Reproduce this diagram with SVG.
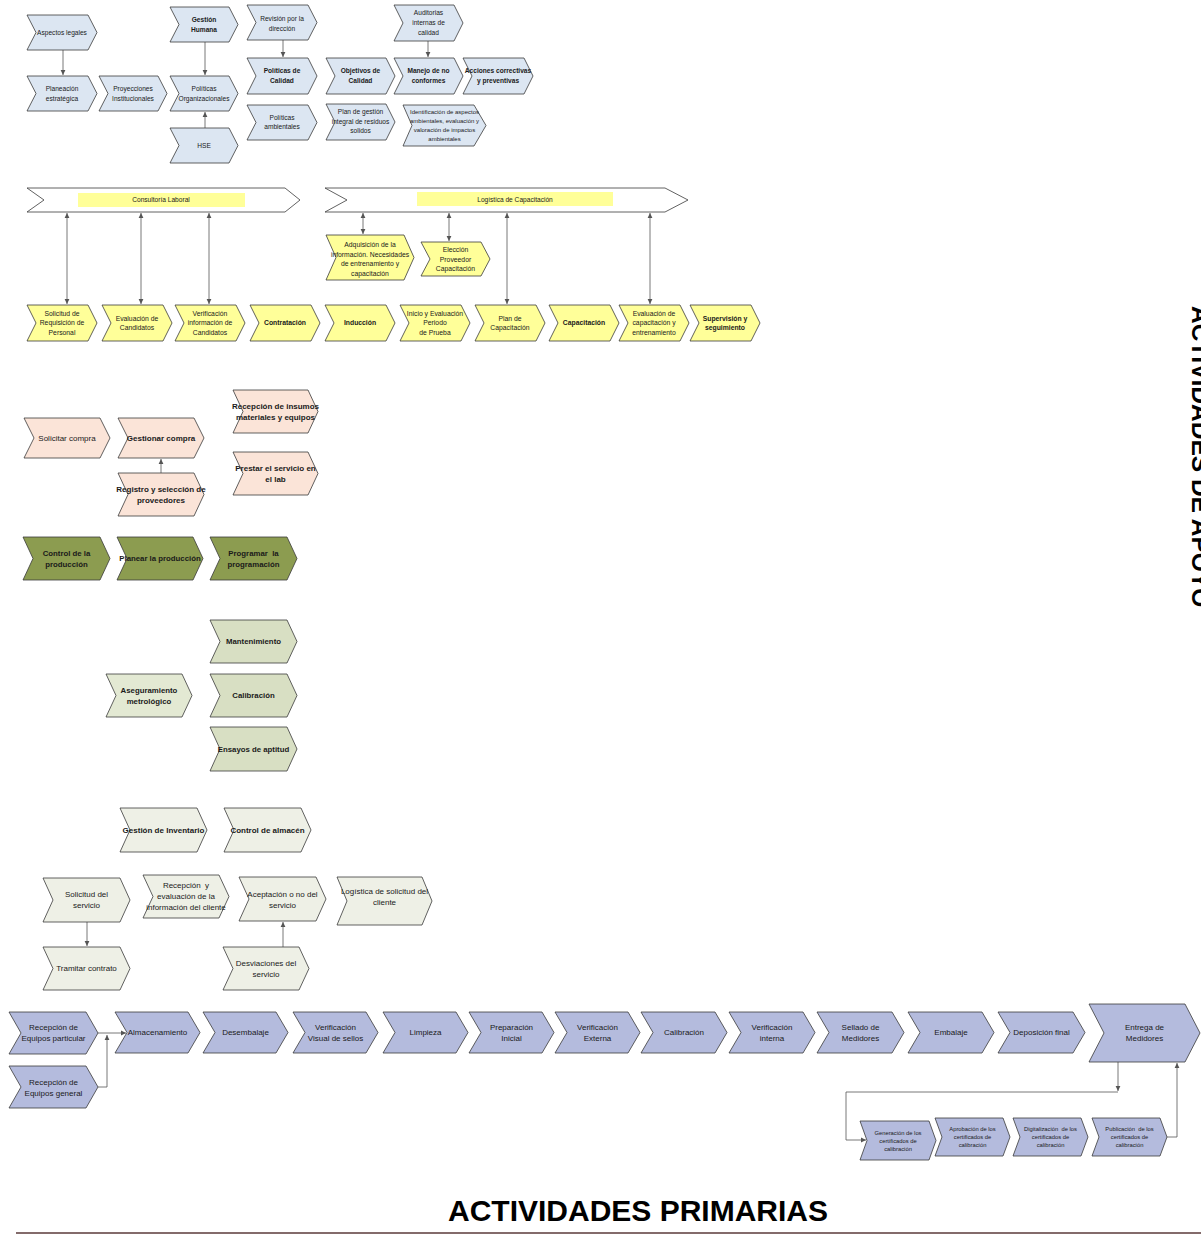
<svg xmlns="http://www.w3.org/2000/svg" width="1201" height="1236" viewBox="0 0 1201 1236">
<defs>
<style>
.n polygon{stroke:#3a3a3a;stroke-width:0.8}
.sky polygon{fill:#dce6f2}
.yel polygon{fill:#ffff99}
.band polygon{fill:#ffffff}
.peach polygon{fill:#fbe4d8}
.olive polygon{fill:#8c9c50}
.sage polygon{fill:#d8dfc3}
.sage2 polygon{fill:#e3e9d3}
.mist polygon{fill:#eef0e6}
.blue polygon{fill:#b4bbdd}
text{font-family:"Liberation Sans",Arial,sans-serif;fill:#1a1a1a;text-anchor:middle}
.t66{font-size:6.6px}
.t60{font-size:6px}
.t68{font-size:6.8px}
.t8{font-size:8px}
.t78{font-size:7.8px;font-weight:bold}
.t58{font-size:5.8px}
.b{font-weight:bold}
.lbl{fill:#ffff99}
.c line,.c polyline{stroke:#555;stroke-width:0.8;fill:none}
</style>
<marker id="ah" markerWidth="6" markerHeight="6" refX="5" refY="3" orient="auto-start-reverse" markerUnits="userSpaceOnUse"><path d="M0,0.6 L5,3 L0,5.4 Z" fill="#555"/></marker>
</defs>
<rect width="1201" height="1236" fill="#ffffff"/>

<!-- connectors -->
<g id="connectors" class="c">
<line x1="63" y1="50" x2="63" y2="75" marker-end="url(#ah)"/>
<line x1="205" y1="42" x2="205" y2="75" marker-end="url(#ah)"/>
<line x1="205" y1="128" x2="205" y2="112" marker-end="url(#ah)"/>
<line x1="283" y1="40" x2="283" y2="57" marker-end="url(#ah)"/>
<line x1="428" y1="41" x2="428" y2="57" marker-end="url(#ah)"/>
<line x1="67" y1="213" x2="67" y2="304" marker-start="url(#ah)" marker-end="url(#ah)"/>
<line x1="141" y1="213" x2="141" y2="304" marker-start="url(#ah)" marker-end="url(#ah)"/>
<line x1="209" y1="213" x2="209" y2="304" marker-start="url(#ah)" marker-end="url(#ah)"/>
<line x1="363" y1="213" x2="363" y2="234" marker-start="url(#ah)" marker-end="url(#ah)"/>
<line x1="449" y1="213" x2="449" y2="241" marker-start="url(#ah)" marker-end="url(#ah)"/>
<line x1="507" y1="213" x2="507" y2="304" marker-start="url(#ah)" marker-end="url(#ah)"/>
<line x1="650" y1="213" x2="650" y2="304" marker-start="url(#ah)" marker-end="url(#ah)"/>
<line x1="161" y1="473" x2="161" y2="459" marker-end="url(#ah)"/>
<line x1="87" y1="922" x2="87" y2="946" marker-end="url(#ah)"/>
<line x1="283" y1="947" x2="283" y2="922" marker-end="url(#ah)"/>
<line x1="98" y1="1033" x2="126" y2="1033" marker-end="url(#ah)"/>
<polyline points="98,1087 107,1087 107,1035" marker-end="url(#ah)"/>
<line x1="1118" y1="1062" x2="1118" y2="1091" marker-end="url(#ah)"/>
<polyline points="1118,1092 846,1092 846,1140 866,1140" marker-end="url(#ah)"/>
<polyline points="1167,1137 1177,1137 1177,1063" marker-end="url(#ah)"/>
</g>

<!-- strategic / management processes -->
<g id="aspectos" class="n sky"><polygon points="27,15 88,15 97,32.5 88,50 27,50 36,32.5"/><text class="t66" x="62" y="35.3">Aspectos legales</text></g>
<g id="planeacion" class="n sky"><polygon points="27,76 88,76 97,93.5 88,111 27,111 36,93.5"/><text class="t66" x="62" y="91.3">Planeación</text><text class="t66" x="62" y="101.3">estratégica</text></g>
<g id="proyecciones" class="n sky"><polygon points="99,76 158,76 167,93.5 158,111 99,111 108,93.5"/><text class="t66" x="133" y="91.3">Proyecciones</text><text class="t66" x="133" y="101.3">Institucionales</text></g>
<g id="gestion-humana" class="n sky"><polygon points="170,7 229,7 238,24.5 229,42 170,42 179,24.5"/><text class="t66 b" x="204" y="22.3">Gestión</text><text class="t66 b" x="204" y="32.3">Humana</text></g>
<g id="politicas-org" class="n sky"><polygon points="170,76 229,76 238,93.5 229,111 170,111 179,93.5"/><text class="t66" x="204" y="91.3">Políticas</text><text class="t66" x="204" y="101.3">Organizacionales</text></g>
<g id="hse" class="n sky"><polygon points="170,128 229,128 238,145.5 229,163 170,163 179,145.5"/><text class="t66" x="204" y="148.3">HSE</text></g>
<g id="revision" class="n sky"><polygon points="247,5 308,5 317,22.5 308,40 247,40 256,22.5"/><text class="t66" x="282" y="21.3">Revisión por la</text><text class="t66" x="282" y="31.3">dirección</text></g>
<g id="politicas-calidad" class="n sky"><polygon points="247,58 308,58 317,76 308,94 247,94 256,76"/><text class="t66 b" x="282" y="73.3">Políticas de</text><text class="t66 b" x="282" y="83.3">Calidad</text></g>
<g id="politicas-amb" class="n sky"><polygon points="247,105 308,105 317,122.5 308,140 247,140 256,122.5"/><text class="t66" x="282" y="120.3">Políticas</text><text class="t66" x="282" y="129.3">ambientales</text></g>
<g id="objetivos" class="n sky"><polygon points="326,58 386,58 395,76 386,94 326,94 335,76"/><text class="t66 b" x="360.5" y="73.3">Objetivos de</text><text class="t66 b" x="360.5" y="83.3">Calidad</text></g>
<g id="plan-residuos" class="n sky"><polygon points="326,104 386,104 395,122 386,140 326,140 335,122"/><text class="t66" x="360.5" y="114.3">Plan de gestión</text><text class="t66" x="360.5" y="124.3">integral de residuos</text><text class="t66" x="360.5" y="133.3">solidos</text></g>
<g id="auditorias" class="n sky"><polygon points="394,5 454,5 463,23 454,41 394,41 403,23"/><text class="t66" x="428.5" y="15.3">Auditorias</text><text class="t66" x="428.5" y="25.3">internas de</text><text class="t66" x="428.5" y="35.3">calidad</text></g>
<g id="manejo" class="n sky"><polygon points="394,58 454,58 463,76 454,94 394,94 403,76"/><text class="t66 b" x="428.5" y="73.3">Manejo de no</text><text class="t66 b" x="428.5" y="83.3">conformes</text></g>
<g id="acciones" class="n sky"><polygon points="463,58 524,58 533,76 524,94 463,94 472,76"/><text class="t66 b" x="498" y="73.3">Acciones correctivas</text><text class="t66 b" x="498" y="83.3">y preventivas</text></g>
<g id="identificacion" class="n sky"><polygon points="403,105 474,105 486,125.5 474,146 403,146 412,125.5"/><text class="t60" x="444.5" y="114">Identificación de aspectos</text><text class="t60" x="444.5" y="123">ambientales, evaluación y</text><text class="t60" x="444.5" y="132">valoración de impactos</text><text class="t60" x="444.5" y="141">ambientales</text></g>

<!-- human resources bands -->
<g id="consultoria" class="n band"><polygon points="27,188 285,188 300,200 285,212 27,212 44,200"/><rect class="lbl" x="78" y="193" width="167" height="14"/><text class="t66" x="161" y="202.3">Consultoría Laboral</text></g>
<g id="logistica-cap" class="n band"><polygon points="325,188 665,188 688,200 665,212 325,212 347,200"/><rect class="lbl" x="417" y="192" width="196" height="14"/><text class="t66" x="515" y="201.5">Logística de Capacitación</text></g>
<g id="adquisicion" class="n yel"><polygon points="326,235 404,235 414,257.5 404,280 326,280 336,257.5"/><text class="t68" x="370" y="247.4">Adquisición de la</text><text class="t68" x="370" y="256.9">información. Necesidades</text><text class="t68" x="370" y="266.4">de entrenamiento y</text><text class="t68" x="370" y="275.9">capacitación</text></g>
<g id="eleccion" class="n yel"><polygon points="421,242 481,242 490,259 481,276 421,276 430,259"/><text class="t68" x="455.5" y="252.4">Elección</text><text class="t68" x="455.5" y="261.9">Proveedor</text><text class="t68" x="455.5" y="271.4">Capacitación</text></g>
<g id="solicitud-req" class="n yel"><polygon points="27,305 88,305 97,323 88,341 27,341 36,323"/><text class="t68" x="62" y="315.9">Solicitud de</text><text class="t68" x="62" y="325.4">Requisición de</text><text class="t68" x="62" y="334.9">Personal</text></g>
<g id="evaluacion-cand" class="n yel"><polygon points="102,305 163,305 172,323 163,341 102,341 111,323"/><text class="t68" x="137" y="320.6">Evaluación de</text><text class="t68" x="137" y="330.1">Candidatos</text></g>
<g id="verificacion-cand" class="n yel"><polygon points="175,305 236,305 245,323 236,341 175,341 184,323"/><text class="t68" x="210" y="315.9">Verificación</text><text class="t68" x="210" y="325.4">información de</text><text class="t68" x="210" y="334.9">Candidatos</text></g>
<g id="contratacion" class="n yel"><polygon points="250,305 311,305 320,323 311,341 250,341 259,323"/><text class="t68 b" x="285" y="325.4">Contratación</text></g>
<g id="induccion" class="n yel"><polygon points="325,305 386,305 395,323 386,341 325,341 334,323"/><text class="t68 b" x="360" y="325.4">Inducción</text></g>
<g id="periodo-prueba" class="n yel"><polygon points="400,305 461,305 470,323 461,341 400,341 409,323"/><text class="t68" x="435" y="315.9">Inicio y Evaluación</text><text class="t68" x="435" y="325.4">Periodo</text><text class="t68" x="435" y="334.9">de Prueba</text></g>
<g id="plan-cap" class="n yel"><polygon points="475,305 536,305 545,323 536,341 475,341 484,323"/><text class="t68" x="510" y="320.6">Plan de</text><text class="t68" x="510" y="330.1">Capacitación</text></g>
<g id="capacitacion" class="n yel"><polygon points="549,305 610,305 619,323 610,341 549,341 558,323"/><text class="t68 b" x="584" y="325.4">Capacitación</text></g>
<g id="evaluacion-cap" class="n yel"><polygon points="619,305 680,305 689,323 680,341 619,341 628,323"/><text class="t68" x="654" y="315.9">Evaluación de</text><text class="t68" x="654" y="325.4">capacitación y</text><text class="t68" x="654" y="334.9">entrenamiento</text></g>
<g id="supervision" class="n yel"><polygon points="690,305 751,305 760,323 751,341 690,341 699,323"/><text class="t68 b" x="725" y="320.6">Supervisión y</text><text class="t68 b" x="725" y="330.1">seguimiento</text></g>

<!-- purchasing -->
<g id="solicitar-compra" class="n peach"><polygon points="24,418 100,418 110,438 100,458 24,458 34,438"/><text class="t8" x="67" y="440.9">Solicitar compra</text></g>
<g id="gestionar-compra" class="n peach"><polygon points="118,418 194,418 204,438 194,458 118,458 128,438"/><text class="t8 b" x="161" y="440.9">Gestionar compra</text></g>
<g id="registro-prov" class="n peach"><polygon points="118,473 194,473 204,494.5 194,516 118,516 128,494.5"/><text class="t8 b" x="161" y="491.9">Registro y selección de</text><text class="t8 b" x="161" y="502.9">proveedores</text></g>
<g id="recepcion-insumos" class="n peach"><polygon points="233,390 308,390 318,411.5 308,433 233,433 243,411.5"/><text class="t8 b" x="275.5" y="408.9">Recepción de insumos</text><text class="t8 b" x="275.5" y="419.9">materiales y equipos</text></g>
<g id="prestar-servicio" class="n peach"><polygon points="233,452 308,452 318,473.5 308,495 233,495 243,473.5"/><text class="t8 b" x="275.5" y="470.9">Prestar el servicio en</text><text class="t8 b" x="275.5" y="481.9">el lab</text></g>

<!-- production -->
<g id="control-produccion" class="n olive"><polygon points="23,537 100,537 110,558.5 100,580 23,580 33,558.5"/><text class="t78" x="66.5" y="555.8">Control de la</text><text class="t78" x="66.5" y="566.8">producción</text></g>
<g id="planear-produccion" class="n olive"><polygon points="117,537 193,537 203,558.5 193,580 117,580 127,558.5"/><text class="t78" x="160" y="561.3">Planear la producción</text></g>
<g id="programar" class="n olive"><polygon points="210,537 287,537 297,558.5 287,580 210,580 220,558.5"/><text class="t78" x="253.5" y="555.8" xml:space="preserve">Programar  la</text><text class="t78" x="253.5" y="566.8">programación</text></g>

<!-- metrology -->
<g id="mantenimiento" class="n sage"><polygon points="210,620 287,620 297,641.5 287,663 210,663 220,641.5"/><text class="t78" x="253.5" y="644.3">Mantenimiento</text></g>
<g id="calibracion-met" class="n sage"><polygon points="210,674 287,674 297,695.5 287,717 210,717 220,695.5"/><text class="t78" x="253.5" y="698.3">Calibración</text></g>
<g id="ensayos" class="n sage"><polygon points="210,727 287,727 297,749 287,771 210,771 220,749"/><text class="t78" x="253.5" y="751.8">Ensayos de aptitud</text></g>
<g id="aseguramiento" class="n sage2"><polygon points="106,674 182,674 192,695.5 182,717 106,717 116,695.5"/><text class="t78" x="149" y="692.8">Aseguramiento</text><text class="t78" x="149" y="703.8">metrológico</text></g>

<!-- inventory and service requests -->
<g id="gestion-inventario" class="n mist"><polygon points="120,808 197,808 207,830 197,852 120,852 130,830"/><text class="t8 b" x="163.5" y="832.8">Gestión de Inventario</text></g>
<g id="control-almacen" class="n mist"><polygon points="224,808 301,808 311,830 301,852 224,852 234,830"/><text class="t8 b" x="267.5" y="832.8">Control de almacén</text></g>
<g id="solicitud-servicio" class="n mist"><polygon points="43,878 120,878 130,900 120,922 43,922 53,900"/><text class="t8" x="86.5" y="897.3">Solicitud del</text><text class="t8" x="86.5" y="908.3">servicio</text></g>
<g id="recepcion-info" class="n mist"><polygon points="143,875 219,875 229,896.5 219,918 143,918 153,896.5"/><text class="t8" x="186" y="887.8" xml:space="preserve">Recepción  y</text><text class="t8" x="186" y="898.8">evaluación de la</text><text class="t8" x="186" y="909.8">información del cliente</text></g>
<g id="aceptacion" class="n mist"><polygon points="239,877 316,877 326,899 316,921 239,921 249,899"/><text class="t8" x="282.5" y="896.8">Aceptación o no del</text><text class="t8" x="282.5" y="907.8">servicio</text></g>
<g id="logistica-solicitud" class="n mist"><polygon points="337,877 422,877 432,901 422,925 337,925 347,901"/><text class="t8" x="384.5" y="893.8">Logística de solicitud del</text><text class="t8" x="384.5" y="904.8">cliente</text></g>
<g id="tramitar" class="n mist"><polygon points="43,947 120,947 130,968.5 120,990 43,990 53,968.5"/><text class="t8" x="86.5" y="971.3">Tramitar contrato</text></g>
<g id="desviaciones" class="n mist"><polygon points="223,947 299,947 309,968.5 299,990 223,990 233,968.5"/><text class="t8" x="266" y="965.8">Desviaciones del</text><text class="t8" x="266" y="976.8">servicio</text></g>

<!-- meter calibration line -->
<g id="recepcion-particular" class="n blue"><polygon points="9,1012 86,1012 98,1033 86,1054 9,1054 21,1033"/><text class="t8" x="53.5" y="1030.3">Recepción de</text><text class="t8" x="53.5" y="1041.3">Equipos particular</text></g>
<g id="recepcion-general" class="n blue"><polygon points="9,1066 86,1066 98,1087 86,1108 9,1108 21,1087"/><text class="t8" x="53.5" y="1084.8">Recepción de</text><text class="t8" x="53.5" y="1095.8">Equipos general</text></g>
<g id="almacenamiento" class="n blue"><polygon points="115,1012 188,1012 200,1032.5 188,1053 115,1053 127,1032.5"/><text class="t8" x="157.5" y="1035.3">Almacenamiento</text></g>
<g id="desembalaje" class="n blue"><polygon points="203,1012 276,1012 288,1032.5 276,1053 203,1053 215,1032.5"/><text class="t8" x="245.5" y="1035.3">Desembalaje</text></g>
<g id="verificacion-visual" class="n blue"><polygon points="293,1012 366,1012 378,1032.5 366,1053 293,1053 305,1032.5"/><text class="t8" x="335.5" y="1029.8">Verificación</text><text class="t8" x="335.5" y="1040.8">Visual de sellos</text></g>
<g id="limpieza" class="n blue"><polygon points="383,1012 456,1012 468,1032.5 456,1053 383,1053 395,1032.5"/><text class="t8" x="425.5" y="1035.3">Limpieza</text></g>
<g id="preparacion" class="n blue"><polygon points="469,1012 542,1012 554,1032.5 542,1053 469,1053 481,1032.5"/><text class="t8" x="511.5" y="1029.8">Preparación</text><text class="t8" x="511.5" y="1040.8">Inicial</text></g>
<g id="verificacion-externa" class="n blue"><polygon points="555,1012 628,1012 640,1032.5 628,1053 555,1053 567,1032.5"/><text class="t8" x="597.5" y="1029.8">Verificación</text><text class="t8" x="597.5" y="1040.8">Externa</text></g>
<g id="calibracion" class="n blue"><polygon points="641,1012 715,1012 727,1032.5 715,1053 641,1053 653,1032.5"/><text class="t8" x="684" y="1035.3">Calibración</text></g>
<g id="verificacion-interna" class="n blue"><polygon points="729,1012 803,1012 815,1032.5 803,1053 729,1053 741,1032.5"/><text class="t8" x="772" y="1029.8">Verificación</text><text class="t8" x="772" y="1040.8">interna</text></g>
<g id="sellado" class="n blue"><polygon points="817,1012 892,1012 904,1032.5 892,1053 817,1053 829,1032.5"/><text class="t8" x="860.5" y="1029.8">Sellado de</text><text class="t8" x="860.5" y="1040.8">Medidores</text></g>
<g id="embalaje" class="n blue"><polygon points="908,1012 982,1012 994,1032.5 982,1053 908,1053 920,1032.5"/><text class="t8" x="951" y="1035.3">Embalaje</text></g>
<g id="deposicion" class="n blue"><polygon points="998,1012 1073,1012 1085,1032.5 1073,1053 998,1053 1010,1032.5"/><text class="t8" x="1041.5" y="1035.3">Deposición final</text></g>
<g id="entrega" class="n blue"><polygon points="1089,1004 1185,1004 1200,1033 1185,1062 1089,1062 1104,1033"/><text class="t8" x="1144.5" y="1029.8">Entrega de</text><text class="t8" x="1144.5" y="1040.8">Medidores</text></g>

<!-- certificates -->
<g id="generacion-cert" class="n blue"><polygon points="860,1121 929,1121 936,1140.5 929,1160 860,1160 867,1140.5"/><text class="t58" x="898" y="1134.5">Generación de los</text><text class="t58" x="898" y="1142.5">certificados de</text><text class="t58" x="898" y="1150.5">calibración</text></g>
<g id="aprobacion-cert" class="n blue"><polygon points="935,1118 1003,1118 1010,1137 1003,1156 935,1156 942,1137"/><text class="t58" x="972.5" y="1131">Aprobación de los</text><text class="t58" x="972.5" y="1139">certificados de</text><text class="t58" x="972.5" y="1147">calibración</text></g>
<g id="digitalizacion-cert" class="n blue"><polygon points="1013,1118 1081,1118 1088,1137 1081,1156 1013,1156 1020,1137"/><text class="t58" x="1050.5" y="1131" xml:space="preserve">Digitalización  de los</text><text class="t58" x="1050.5" y="1139">certificados de</text><text class="t58" x="1050.5" y="1147">calibración</text></g>
<g id="publicacion-cert" class="n blue"><polygon points="1092,1118 1160,1118 1167,1137 1160,1156 1092,1156 1099,1137"/><text class="t58" x="1129.5" y="1131" xml:space="preserve">Publicación  de los</text><text class="t58" x="1129.5" y="1139">certificados de</text><text class="t58" x="1129.5" y="1147">calibración</text></g>

<!-- section headings -->
<text x="1192" y="0" transform="translate(0,306) rotate(90 1192 0)" style="font-size:24.5px;font-weight:bold;text-anchor:start;fill:#000">ACTIVIDADES DE APOYO</text>
<text x="638" y="1221" style="font-size:30px;font-weight:bold;fill:#000">ACTIVIDADES PRIMARIAS</text>
<line x1="16" y1="1233" x2="1201" y2="1233" stroke="#5a3a3a" stroke-width="1.5"/>
</svg>
